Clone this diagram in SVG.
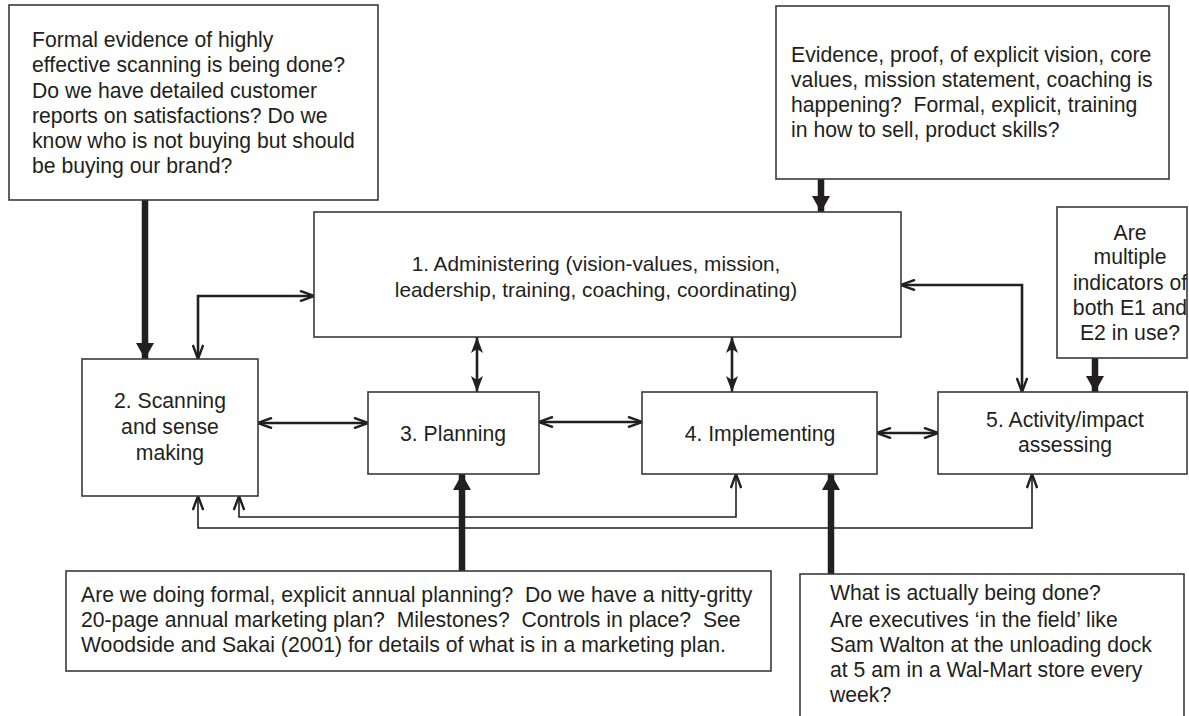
<svg xmlns="http://www.w3.org/2000/svg" width="1189" height="716" viewBox="0 0 1189 716">
<style>
.box{fill:#fff;stroke:#3a3a3a;stroke-width:1.6}
.t{font-family:"Liberation Sans",Arial,sans-serif;font-size:21.2px;fill:#231f20;white-space:pre}
.a{font-size:20.8px}
.c{text-anchor:middle}
.ln{fill:none;stroke:#231f20;stroke-width:2.6}
.fb{fill:none;stroke:#231f20;stroke-width:1.6}
.thick{fill:none;stroke:#231f20;stroke-width:6.5}
</style>
<defs>
<marker id="open" viewBox="0 0 16 12" refX="15" refY="6" markerWidth="16" markerHeight="12" markerUnits="userSpaceOnUse" orient="auto-start-reverse">
<path d="M1,0.8 L15,6 L1,11.2" fill="none" stroke="#231f20" stroke-width="2.4"/>
</marker>
<marker id="barb" viewBox="0 0 16 12" refX="16" refY="6" markerWidth="16" markerHeight="12" markerUnits="userSpaceOnUse" orient="auto-start-reverse">
<path d="M0,0 L16,6 L0,12 L4,6 z" fill="#231f20"/>
</marker>
<marker id="head" viewBox="0 0 16 18" refX="16" refY="9" markerWidth="16" markerHeight="18" markerUnits="userSpaceOnUse" orient="auto-start-reverse">
<path d="M0,0 L16,9 L0,18 z" fill="#231f20"/>
</marker>
</defs>

<g id="connectors">
<line class="thick" x1="145" y1="200" x2="145" y2="359" marker-end="url(#head)"/>
<line class="thick" x1="821" y1="179" x2="821" y2="212" marker-end="url(#head)"/>
<line class="thick" x1="1095" y1="358" x2="1095" y2="392" marker-end="url(#head)"/>
<line class="thick" x1="462" y1="571" x2="462" y2="474" marker-end="url(#head)"/>
<line class="thick" x1="831" y1="574" x2="831" y2="474" marker-end="url(#head)"/>
<polyline class="ln" points="314,296 198,296 198,359" marker-start="url(#open)" marker-end="url(#open)"/>
<polyline class="ln" points="901,285 1022,285 1022,392" marker-start="url(#open)" marker-end="url(#open)"/>
<line class="ln" x1="477" y1="337" x2="477" y2="392" marker-start="url(#barb)" marker-end="url(#barb)"/>
<line class="ln" x1="732" y1="337" x2="732" y2="392" marker-start="url(#barb)" marker-end="url(#barb)"/>
<line class="ln" x1="258" y1="423" x2="368" y2="423" marker-start="url(#open)" marker-end="url(#open)"/>
<line class="ln" x1="539" y1="422" x2="642" y2="422" marker-start="url(#open)" marker-end="url(#open)"/>
<line class="ln" x1="877" y1="433" x2="938" y2="433" marker-start="url(#open)" marker-end="url(#open)"/>
<polyline class="fb" points="239,496 239,517 736,517 736,474" marker-start="url(#open)" marker-end="url(#open)"/>
<polyline class="fb" points="198,496 198,528 1032,528 1032,474" marker-start="url(#open)" marker-end="url(#open)"/>
</g>

<g id="evidence-scanning">
<rect class="box" x="9" y="5" width="369" height="195"/>
<text class="t" x="32" y="47">Formal evidence of highly</text>
<text class="t" x="32" y="72">effective scanning is being done?</text>
<text class="t" x="32" y="98">Do we have detailed customer</text>
<text class="t" x="32" y="123">reports on satisfactions? Do we</text>
<text class="t" x="32" y="148">know who is not buying but should</text>
<text class="t" x="32" y="173">be buying our brand?</text>
</g>

<g id="evidence-administering">
<rect class="box" x="776" y="6" width="393" height="173"/>
<text class="t" x="791" y="62">Evidence, proof, of explicit vision, core</text>
<text class="t" x="791" y="87">values, mission statement, coaching is</text>
<text class="t" x="791" y="112">happening?  Formal, explicit, training</text>
<text class="t" x="791" y="137">in how to sell, product skills?</text>
</g>

<g id="evidence-assessing">
<rect class="box" x="1057" y="207" width="130" height="151"/>
<text class="t c" x="1130" y="240">Are</text>
<text class="t c" x="1130" y="264">multiple</text>
<text class="t c" x="1130" y="290">indicators of</text>
<text class="t c" x="1130" y="315">both E1 and</text>
<text class="t c" x="1130" y="340">E2 in use?</text>
</g>

<g id="administering">
<rect class="box" x="314" y="212" width="587" height="125"/>
<text class="t a c" x="596" y="271">1. Administering (vision-values, mission,</text>
<text class="t a c" x="596" y="297">leadership, training, coaching, coordinating)</text>
</g>

<g id="scanning">
<rect class="box" x="82" y="359" width="176" height="137"/>
<text class="t c" x="170" y="408">2. Scanning</text>
<text class="t c" x="170" y="434">and sense</text>
<text class="t c" x="170" y="460">making</text>
</g>

<g id="planning">
<rect class="box" x="368" y="392" width="171" height="82"/>
<text class="t c" x="453" y="441">3. Planning</text>
</g>

<g id="implementing">
<rect class="box" x="642" y="392" width="235" height="82"/>
<text class="t c" x="760" y="441">4. Implementing</text>
</g>

<g id="assessing">
<rect class="box" x="938" y="392" width="249" height="82"/>
<text class="t c" x="1065" y="427">5. Activity/impact</text>
<text class="t c" x="1065" y="452">assessing</text>
</g>

<g id="evidence-planning">
<rect class="box" x="66" y="571" width="705" height="100"/>
<text class="t" x="81" y="602">Are we doing formal, explicit annual planning?  Do we have a nitty-gritty</text>
<text class="t" x="81" y="627">20-page annual marketing plan?  Milestones?  Controls in place?  See</text>
<text class="t" x="81" y="652">Woodside and Sakai (2001) for details of what is in a marketing plan.</text>
</g>

<g id="evidence-implementing">
<rect class="box" x="800" y="574" width="384" height="160"/>
<text class="t" x="830" y="600">What is actually being done?</text>
<text class="t" x="830" y="627">Are executives ‘in the field’ like</text>
<text class="t" x="830" y="652">Sam Walton at the unloading dock</text>
<text class="t" x="830" y="677">at 5 am in a Wal-Mart store every</text>
<text class="t" x="830" y="702">week?</text>
</g>
</svg>
